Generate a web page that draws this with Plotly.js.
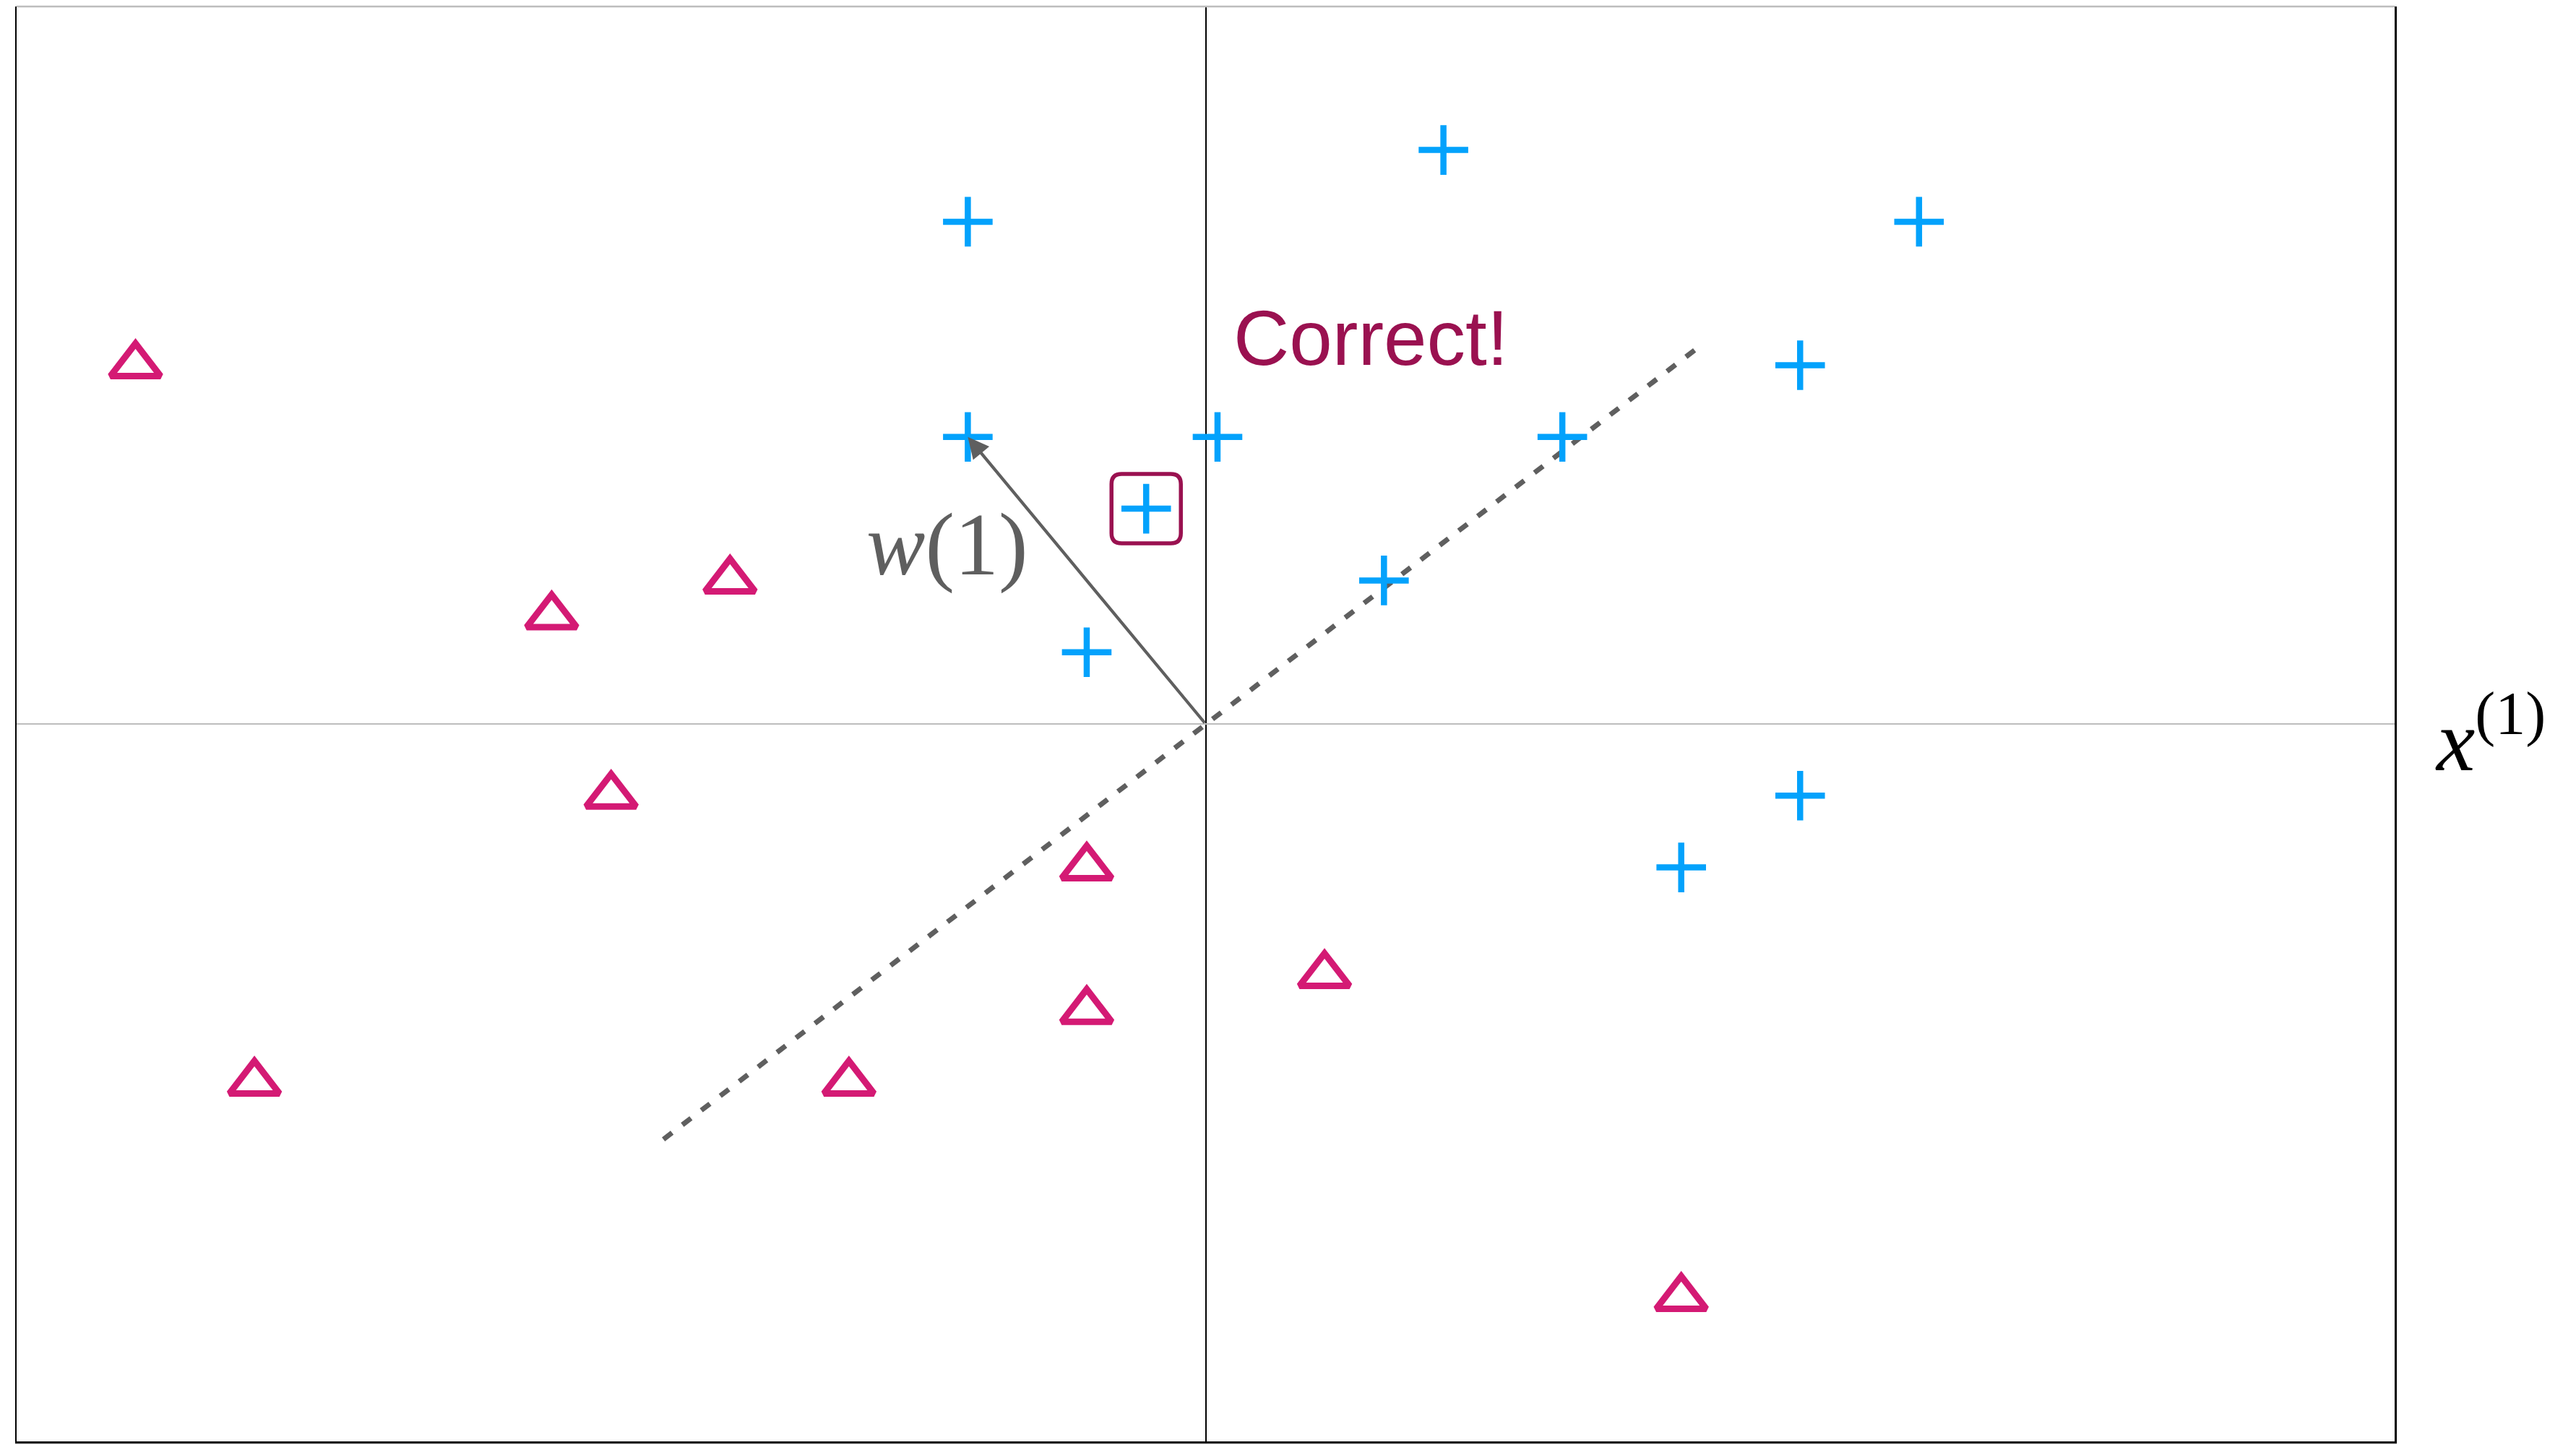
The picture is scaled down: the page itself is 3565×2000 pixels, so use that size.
<!DOCTYPE html>
<html>
<head>
<meta charset="utf-8">
<script src="https://cdn.plot.ly/plotly-3.0.1.min.js"></script>
<style>html,body{margin:0;padding:0;background:#fff;}#chart{width:3565px;height:2000px;}</style>
</head>
<body>
<div id="chart"></div>
<script>
// Positive class (+) points
const plusX = [-2, 2, 6, 5, -2, 0.1, 3, -0.5, 1.5, -1, 5, 4];
const plusY = [7, 8, 7, 5, 4, 4, 4, 3, 2, 1, -1, -2];
// Negative class (triangle) points
const triX = [-9, -8, -5.5, -5, -4, -3, -1, -1, 1, 4];
const triY = [5, -5, 1.5, -1, 2, -5, -2, -4, -3.5, -8];
// Decision boundary segment
const boundaryX = [-4.56, 4.16];
const boundaryY = [-5.79, 5.27];
// Weight vector w(1)
const weightX = -2;
const weightY = 4;
// Highlighted (correctly classified) point index in plus arrays
const highlightIndex = 7;
// Labels
const correctLabel = 'Correct!';
const correctPos = [1.39, 5.38];
const weightLabel = '<i>w</i>(1)';
const weightLabelPos = [-2.17, 2.5];
const axisLabel = '<i>x</i><sup>(1)</sup>';

const blue = '#03A2FC';
const magenta = '#D41A74';
const wine = '#9A1150';
const gray = '#5F5F5F';

const traces = [
  {
    x: boundaryX, y: boundaryY, type: 'scatter', mode: 'lines',
    line: {color: gray, width: 7, dash: '15px,18px'}, hoverinfo: 'skip', showlegend: false
  },
  {
    x: triX, y: triY, type: 'scatter', mode: 'markers',
    marker: {symbol: 'triangle-up-open', size: 60, color: magenta, line: {color: magenta, width: 9}},
    showlegend: false
  },
  {
    x: plusX, y: plusY, type: 'scatter', mode: 'markers',
    marker: {symbol: 'cross-thin', size: 49, color: blue, line: {color: blue, width: 8.5}},
    showlegend: false
  }
];

const hx = plusX[highlightIndex], hy = plusY[highlightIndex];
const half = 48, rad = 14;
const boxPath = `M ${-half + rad},${-half} L ${half - rad},${-half} Q ${half},${-half} ${half},${-half + rad} L ${half},${half - rad} Q ${half},${half} ${half - rad},${half} L ${-half + rad},${half} Q ${-half},${half} ${-half},${half - rad} L ${-half},${-half + rad} Q ${-half},${-half} ${-half + rad},${-half} Z`;

const layout = {
  width: 3565, height: 2000,
  margin: {l: 23, r: 251, t: 9, b: 5, pad: 0},
  paper_bgcolor: '#ffffff', plot_bgcolor: '#ffffff',
  showlegend: false,
  xaxis: {
    range: [-10, 10], showgrid: false, showticklabels: false, ticks: '',
    zeroline: true, zerolinecolor: '#000000', zerolinewidth: 2,
    showline: true, linecolor: '#000000', linewidth: 2.5, mirror: false, fixedrange: true
  },
  yaxis: {
    range: [-10, 10], showgrid: false, showticklabels: false, ticks: '',
    zeroline: true, zerolinecolor: '#BDBDBD', zerolinewidth: 2.7,
    showline: true, linecolor: '#000000', linewidth: 2.5, mirror: true, fixedrange: true
  },
  shapes: [
    {type: 'line', xref: 'paper', yref: 'paper', x0: 0, x1: 1, y0: 1, y1: 1,
     line: {color: '#BDBDBD', width: 2.7}},
    {type: 'path', xref: 'x', yref: 'y', xsizemode: 'pixel', ysizemode: 'pixel',
     xanchor: hx, yanchor: hy, path: boxPath, line: {color: wine, width: 5.5}, fillcolor: 'rgba(0,0,0,0)'}
  ],
  annotations: [
    {x: weightX, y: weightY, ax: 0, ay: 0, axref: 'x', ayref: 'y', xref: 'x', yref: 'y',
     text: '', showarrow: true, arrowhead: 2, arrowsize: 1.35, arrowwidth: 4.3, arrowcolor: gray, standoff: 0},
    {x: correctPos[0], y: correctPos[1], xref: 'x', yref: 'y', text: correctLabel, showarrow: false,
     font: {family: 'Liberation Sans, Arial, sans-serif', size: 107, color: wine}, xanchor: 'center', yanchor: 'middle'},
    {x: weightLabelPos[0], y: weightLabelPos[1], xref: 'x', yref: 'y', text: weightLabel, showarrow: false,
     font: {family: 'Liberation Serif, Times New Roman, serif', size: 122, color: gray}, xanchor: 'center', yanchor: 'middle'},
    {x: 1.0164, y: -0.15, xref: 'paper', yref: 'y', text: axisLabel, showarrow: false,
     font: {family: 'Liberation Serif, Times New Roman, serif', size: 120, color: '#000000'}, xanchor: 'left', yanchor: 'middle'}
  ]
};

Plotly.newPlot('chart', traces, layout, {staticPlot: true, displayModeBar: false});
</script>
</body>
</html>
